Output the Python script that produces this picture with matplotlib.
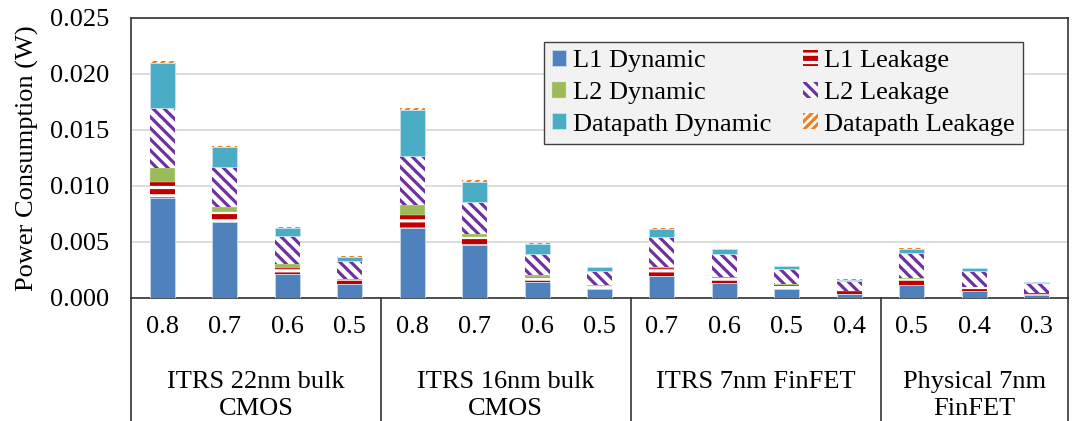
import numpy as np
import matplotlib
matplotlib.use('Agg')
import matplotlib.pyplot as plt
from matplotlib.patches import Patch
import matplotlib.transforms as mtransforms

plt.rcParams['font.family'] = ['Liberation Serif', 'DejaVu Serif']
plt.rcParams['hatch.linewidth'] = 2.3

# values (W)
voltages = ['0.8', '0.7', '0.6', '0.5', '0.8', '0.7', '0.6', '0.5',
            '0.7', '0.6', '0.5', '0.4', '0.5', '0.4', '0.3']
groups = ['ITRS 22nm bulk\nCMOS', 'ITRS 16nm bulk\nCMOS', 'ITRS 7nm FinFET', 'Physical 7nm\nFinFET']
group_sizes = [4, 4, 4, 3]

l1_dyn = [0.0089, 0.00676, 0.00217, 0.00122, 0.00628, 0.00473, 0.00146, 0.0008,
          0.00199, 0.00137, 0.00083, 0.00038, 0.00113, 0.00062, 0.00027]
l1_leak = [0.00146, 0.0009, 0.00053, 0.0004, 0.0011, 0.0007, 0.0004, 0.0003,
           0.0007, 0.0005, 0.00036, 0.00024, 0.0006, 0.00036, 0.00015]
l2_dyn = [0.00122, 0.00048, 0.00036, 0.0001, 0.0009, 0.0003, 0.0002, 0.00008,
          0.00005, 0.00004, 0.00003, 0.00002, 0.00005, 0.00003, 0.00002]
l2_leak = [0.0054, 0.0036, 0.0025, 0.0016, 0.0044, 0.0028, 0.0019, 0.0012,
           0.0027, 0.002, 0.00137, 0.0009, 0.0022, 0.00143, 0.0009]
dp_dyn = [0.0040, 0.00176, 0.0007, 0.00036, 0.0041, 0.00185, 0.00086, 0.00035,
          0.0007, 0.00045, 0.00027, 0.0001, 0.00042, 0.00024, 0.00006]
dp_leak = [0.00015, 0.0001, 0.0001, 0.00008, 0.00015, 0.00015, 0.00006, 0.00005,
           0.0001, 0.00005, 0.00004, 0.00003, 0.00008, 0.00004, 0.00002]

series = [
    ('L1 Dynamic', l1_dyn, dict(facecolor='#4F81BD', edgecolor='#C9D7EA', linewidth=0.6)),
    ('L1 Leakage', l1_leak, dict(facecolor='#C00000', edgecolor='white', hatch='--', linewidth=0)),
    ('L2 Dynamic', l2_dyn, dict(facecolor='#9BBB59', edgecolor='#D7E4BD', linewidth=0.3)),
    ('L2 Leakage', l2_leak, dict(facecolor='white', edgecolor='#7030A0', hatch='\\\\\\', linewidth=0)),
    ('Datapath Dynamic', dp_dyn, dict(facecolor='#4BACC6', edgecolor='#C5E4EE', linewidth=0.6)),
    ('Datapath Leakage', dp_leak, dict(facecolor='white', edgecolor='#F07F20', hatch='////', linewidth=0)),
]

fig = plt.figure(figsize=(10.73, 4.21), dpi=100)
ax = fig.add_axes([131/1073, 1 - 298/421, 937/1073, 280/421])

x = np.arange(len(voltages))
bottom = np.zeros(len(x))
handles = {}
for name, vals, style in series:
    vals = np.array(vals)
    ax.bar(x, vals, 0.4, bottom=bottom, zorder=3, **style)
    bottom += vals
    handles[name] = Patch(**style)

ax.set_xlim(-0.5, len(x) - 0.5)
ax.set_ylim(0, 0.025)
ax.set_yticks(np.arange(0, 0.0251, 0.005))
ax.set_yticklabels(['%.3f' % v for v in np.arange(0, 0.0251, 0.005)], fontsize=19)
ax.tick_params(axis='y', length=0, pad=16)
ax.set_xticks([])
ax.grid(axis='y', color='#D9D9D9', linewidth=1.3, zorder=0)
for s in ax.spines.values():
    s.set_color('#333333')
    s.set_linewidth(1.2)

fig.text(27/1073, 1 - 158/421, 'Power Consumption (W)', rotation=90,
         ha='center', va='center', fontsize=19)

# category axis below the plot
trans = mtransforms.blended_transform_factory(ax.transData, ax.transAxes)
for xi, lab in zip(x, voltages):
    ax.text(xi, -0.105, lab, transform=trans, ha='center', va='center', fontsize=19)

edges = np.concatenate([[0], np.cumsum(group_sizes)]) - 0.5
for e in edges:
    ax.plot([e, e], [0, -0.5], transform=trans, color='#333333', linewidth=1.2, clip_on=False)
for i, g in enumerate(groups):
    c = (edges[i] + edges[i + 1]) / 2
    ax.text(c, -0.262, g, transform=trans, ha='center', va='top', fontsize=19, linespacing=1.28)

order = ['L1 Dynamic', 'L2 Dynamic', 'Datapath Dynamic', 'L1 Leakage', 'L2 Leakage', 'Datapath Leakage']
leg = ax.legend([handles[n] for n in order], order, ncol=2, loc='upper left',
                bbox_to_anchor=((544 - 131) / 937, (298 - 42) / 280), borderaxespad=0,
                fontsize=19, frameon=True, fancybox=False, framealpha=1,
                handlelength=0.55, handleheight=0.55, handletextpad=0.25,
                columnspacing=1.2, labelspacing=0.36, borderpad=0.3)
leg.get_frame().set_facecolor('#F2F2F2')
leg.get_frame().set_edgecolor('#404040')
leg.get_frame().set_linewidth(1.0)

fig.savefig('out.png', dpi=100)
